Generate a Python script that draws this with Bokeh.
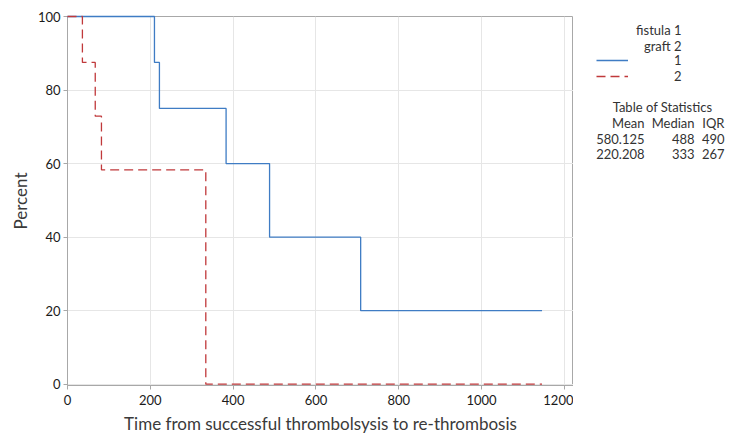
from bokeh.plotting import figure
from bokeh.layouts import row
from bokeh.models import Label, Legend, LegendItem, Range1d, FixedTicker
from bokeh.embed import file_html
from bokeh.resources import INLINE

# Kaplan-Meier step data
fistula_time = [0, 210, 222, 383, 488, 708, 1146]
fistula_surv = [100, 87.5, 75, 60, 40, 20, 20]
graft_time = [0, 36, 67, 82, 334, 1146]
graft_surv = [100, 87.5, 72.9, 58.3, 0, 0]

x_ticks = [0, 200, 400, 600, 800, 1000, 1200]
y_ticks = [0, 20, 40, 60, 80, 100]

legend_header = ["fistula 1", "graft 2"]
group_labels = ["1", "2"]
stat_title = "Table of Statistics"
stat_headers = ["Mean", "Median", "IQR"]
stat_rows = [["580.125", "488", "490"], ["220.208", "333", "267"]]

FONT = "Lato"
BLUE = "#3f7cc4"
RED = "#c0393b"
TXT = "#333333"

TOP, BOTTOM_BORDER = 16, 59
FRAME_BOTTOM = 444 - BOTTOM_BORDER

p = figure(width=573, height=444, output_backend="svg", toolbar_location=None,
           x_range=Range1d(0, 1222), y_range=Range1d(-0.35, 100),
           min_border_left=67, min_border_right=0, min_border_top=TOP, min_border_bottom=BOTTOM_BORDER)

p.outline_line_color = "#a8a8a8"
p.outline_line_width = 1

for ax in (p.xaxis[0], p.yaxis[0]):
    ax.axis_line_color = "#a8a8a8"
    ax.major_tick_line_color = "#a8a8a8"
    ax.minor_tick_line_color = None
    ax.major_tick_out = 4
    ax.major_tick_in = 0
    ax.major_label_text_font = FONT
    ax.major_label_text_font_size = "13px"
    ax.major_label_text_color = "#1a1a1a"
    ax.axis_label_text_font = FONT
    ax.axis_label_text_font_size = "17px"
    ax.axis_label_text_font_style = "normal"
    ax.axis_label_text_color = "#3a3a3a"

p.xaxis.ticker = FixedTicker(ticks=x_ticks)
p.yaxis.ticker = FixedTicker(ticks=y_ticks)
p.xaxis.axis_label = "Time from successful thrombolsysis to re-thrombosis"
p.yaxis.axis_label = "Percent"
p.xaxis.major_label_standoff = 5
p.xaxis.axis_label_standoff = 5
p.yaxis.major_label_standoff = 3
p.yaxis.axis_label_standoff = 4

p.xgrid.ticker = FixedTicker(ticks=x_ticks)
p.ygrid.ticker = FixedTicker(ticks=y_ticks)
p.grid.grid_line_color = "#e6e6e6"
p.grid.grid_line_width = 1

r1 = p.step(fistula_time, fistula_surv, mode="after", line_color=BLUE, line_width=1.3)
r2 = p.step(graft_time, graft_surv, mode="after", line_color=RED, line_width=1.3, line_dash="9 5")
r1.level = "overlay"
r2.level = "overlay"

# Side panel with legend and statistics table
side = figure(width=177, height=444, output_backend="svg", toolbar_location=None,
              x_range=Range1d(0, 1), y_range=Range1d(0, 1),
              min_border_left=0, min_border_right=0, min_border_top=TOP, min_border_bottom=BOTTOM_BORDER)
side.axis.visible = False
side.grid.visible = False
side.outline_line_color = None

# legend-only proxies, placed outside the side panel's visible range
d1 = side.line(x=[5, 6], y=[5, 6], line_color=BLUE, line_width=1.3)
d2 = side.line(x=[5, 6], y=[5, 6], line_color=RED, line_width=1.3, line_dash="9 5")

OX = 573  # canvas x of side panel's left edge

legend = Legend(items=[LegendItem(label=group_labels[0], renderers=[d1]),
                       LegendItem(label=group_labels[1], renderers=[d2])],
                location=(596 - OX, FRAME_BOTTOM - 84), orientation="vertical",
                glyph_width=32, glyph_height=16, label_height=16, label_standoff=46,
                spacing=0, padding=0, margin=0,
                background_fill_alpha=0, border_line_color=None,
                label_text_font=FONT, label_text_font_size="13px", label_text_color=TXT)
side.add_layout(legend)

def add_label(text, cx, cy, align="right"):
    side.add_layout(Label(x=cx - OX, y=FRAME_BOTTOM - cy, x_units="screen", y_units="screen", text=text,
                          text_align=align, text_baseline="middle", text_font=FONT,
                          text_font_size="13px", text_color=TXT))

add_label(legend_header[0], 681, 29)
add_label(legend_header[1], 681, 45)
add_label(stat_title, 662, 106, align="center")
col_right = [644, 694, 724]
for h, xr in zip(stat_headers, col_right):
    add_label(h, xr, 122)
for vals, cy in zip(stat_rows, [138, 153]):
    for v, xr in zip(vals, col_right):
        add_label(v, xr, cy)

layout = row(p, side, spacing=0)
open("out.html", "w").write(file_html(layout, INLINE))
